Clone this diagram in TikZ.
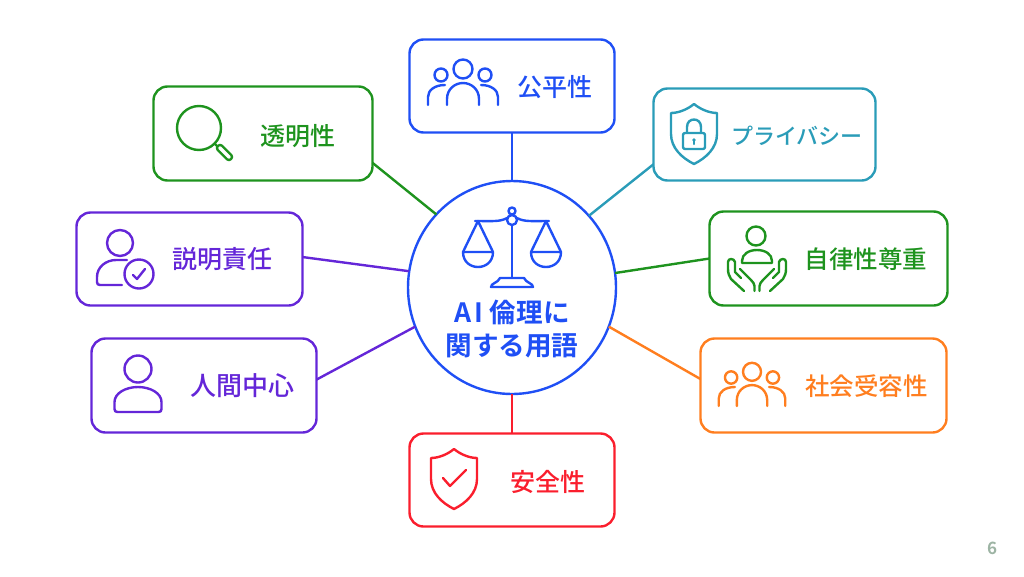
\documentclass[tikz,border=0pt]{standalone}
\usepackage{fontspec}
\setmainfont{Noto Sans CJK JP Medium}[BoldFont=Noto Sans CJK JP Bold]
\usetikzlibrary{%
    shapes.geometric
}

\definecolor{hubblue}{HTML}{1F4FF5}
\definecolor{lawngreen}{HTML}{1E931E}
\definecolor{lockteal}{HTML}{2A9CB8}
\definecolor{duepurple}{HTML}{6426D8}
\definecolor{crowdorange}{HTML}{FF7E1F}
\definecolor{alertred}{HTML}{FA1E2D}
\definecolor{pagegrey}{HTML}{9DB4A4}

\tikzset{%
    termbox/.style={draw=#1, text=#1, rectangle, rounded corners=14pt,
                    line width=2.4pt, outer sep=0pt},
    termtext/.style={text=#1, font=\fontsize{25}{25}\selectfont, inner sep=0pt},
    hubtext/.style={text=hubblue, font=\fontsize{26.6}{26.6}\selectfont\bfseries, inner sep=0pt},
    link/.style={draw=#1, line width=2.4pt},
    icon/.style={color=#1, line width=2.4pt, line join=round, line cap=round},
    %
    people/.pic={
        \draw (0,-16) circle[radius=9.5];
        \draw (-16,20) -- (-16,14) .. controls (-16,4) and (-8,-2) .. (0,-2)
              .. controls (8,-2) and (16,4) .. (16,14) -- (16,20);
        \foreach \Side in {1,-1} {
            \draw (\Side*22,-10) circle[radius=6.5];
            \draw (\Side*35,20) -- (\Side*35,12)
                  .. controls (\Side*35,5) and (\Side*28,0) .. (\Side*18,0);
        }
    },
    person/.pic={
        \draw (0,-21) circle[radius=13.5];
        \draw (-23.5,12) .. controls (-23.5,3) and (-12,-3) .. (0,-3)
              .. controls (12,-3) and (23.5,3) .. (23.5,12) -- (23.5,19)
              .. controls (23.5,21) and (22.5,22) .. (20.5,22) -- (-20.5,22)
              .. controls (-22.5,22) and (-23.5,21) .. (-23.5,19) -- cycle;
    },
    personcheck/.pic={
        \draw (0,-22) circle[radius=13];
        \draw (2,20) -- (-20,20) .. controls (-22,20) and (-23,19) .. (-23,17)
              -- (-23,12) .. controls (-23,2) and (-14,-5) .. (-4,-5) -- (7,-5);
        \draw (19,9) circle[radius=14.5];
        \draw (13,10) -- (17,14) -- (25,4);
    },
    magnifier/.pic={
        \draw (0,0) circle[radius=22];
        \draw (15.5,15.5) -- (18,18);
        \draw[rounded corners=2.5pt] (21.1,15.9) -- (34.1,28.9) -- (29.9,33.1)
              -- (16.9,20.1) -- cycle;
    },
    shield/.pic={
        \draw (0,-30) .. controls (6,-25) and (15,-21) .. (23,-21) -- (23,0)
              .. controls (23,14) and (12,24) .. (0,30)
              .. controls (-12,24) and (-23,14) .. (-23,0) -- (-23,-21)
              .. controls (-15,-21) and (-6,-25) .. (0,-30) -- cycle;
    },
    shieldlock/.pic={
        \pic {shield};
        \draw[rounded corners=2pt] (-11,-1) rectangle (11,15);
        \draw (-7,-1) -- (-7,-7) .. controls (-7,-17) and (7,-17) .. (7,-7) -- (7,-1);
        \fill (0,6) circle[radius=1.8];
        \draw (0,6) -- (0,10);
    },
    shieldcheck/.pic={
        \pic {shield};
        \draw (-11,-1) -- (-4,7) -- (12,-9);
    },
    carehands/.pic={
        \draw (-1,-28) circle[radius=9.5];
        \draw (-15,-1) -- (-15,-3) .. controls (-15,-10) and (-8,-14) .. (0,-14)
              .. controls (8,-14) and (15,-10) .. (15,-3) -- (15,-1) -- cycle;
        \foreach \Side in {1,-1} {
            \draw (\Side*-13,27) -- (\Side*-26,15)
                  .. controls (\Side*-28,12) and (\Side*-29,9) .. (\Side*-29,5)
                  -- (\Side*-29,-2) .. controls (\Side*-29,-6) and (\Side*-23,-6) .. (\Side*-22,-2)
                  -- (\Side*-22,8) -- (\Side*-16,14);
            \draw (\Side*-17,5) -- (\Side*-6,16)
                  .. controls (\Side*-4,18) and (\Side*-2.5,20) .. (\Side*-2.5,22) -- (\Side*-2.5,27);
        }
    },
    balance/.pic={
        \draw (0,-20) -- (0,33);
        \draw (0,-25) circle[radius=5];
        \draw (0,-34) circle[radius=3.5];
        \draw (-21,42) .. controls (-21,38) and (-14,38) .. (-12,33) -- (12,33)
              .. controls (14,38) and (21,38) .. (21,42) -- cycle;
        \foreach \Side in {1,-1} {
            \draw (\Side*37,-24) .. controls (\Side*20,-24) and (\Side*12,-23) .. (\Side*5,-27);
            \draw (\Side*19,7) -- (\Side*34,-24) -- (\Side*49,7);
            \draw (\Side*19,7) -- (\Side*49,7)
                  .. controls (\Side*49,27) and (\Side*19,27) .. (\Side*19,7);
        }
    }
}

\begin{document}
\begin{tikzpicture}[x=1pt, y=-1pt]
    \useasboundingbox (0,0) rectangle (1024,576);

    \node[draw=hubblue, ellipse, line width=2.4pt, outer sep=0pt, inner sep=0pt,
          minimum width=208pt, minimum height=213pt] (hub) at (512,287.5) {};

    \foreach \Name/\X/\Y/\Wd/\Ht/\Colour in {%
        fair/512/86/205/93/hubblue,
        clear/263/133.5/219/94/lawngreen,
        privacy/764.5/134.5/222/92/lockteal,
        account/189.5/259/226/93/duepurple,
        autonomy/828.5/258.5/238/94/lawngreen,
        human/204/385.5/225/94/duepurple,
        social/823.5/385.5/246/94/crowdorange,
        safety/512/480/205/93/alertred%
        }
        \node[termbox=\Colour, minimum width=\Wd pt, minimum height=\Ht pt] (\Name) at (\X,\Y) {};

    \foreach \Box/\HubAngle/\BoxAngle/\Colour in {%
        fair/90/-90/hubblue,
        clear/136/-15/lawngreen,
        privacy/43/195.3/lockteal,
        account/171.5/1/duepurple,
        autonomy/8/180/lawngreen,
        human/202.7/3.3/duepurple,
        social/-22.5/177/crowdorange,
        safety/-90/90/alertred%
        }
        \draw[link=\Colour] (hub.\HubAngle) -- (\Box.\BoxAngle);

    \foreach \Name/\X/\Y/\Colour/\Term in {%
        fairtext/555/87/hubblue/公平性,
        cleartext/298/136/lawngreen/透明性,
        accounttext/222.5/259/duepurple/説明責任,
        safetytext/548/482/alertred/安全性%
        }
        \node[termtext=\Colour] (\Name) at (\X,\Y) {\Term};
    \foreach \Name/\X/\Y/\Size/\Colour/\Term in {%
        humantext/242/386/26/duepurple/人間中心,
        autonomytext/866/259/24.5/lawngreen/自律性尊重,
        socialtext/866.5/386/24.5/crowdorange/社会受容性,
        privacytext/797/136/22/lockteal/プライバシー%
        }
        \node[termtext=\Colour, font=\fontsize{\Size}{\Size}\selectfont] (\Name) at (\X,\Y) {\Term};

    \node[hubtext] (hubtop) at (512,312) {A\kern3pt I\kern7pt 倫理に};
    \node[hubtext] (hubbottom) at (512,346) {関する用語};

    \node[text=pagegrey, font=\fontsize{17}{17}\selectfont\bfseries, inner sep=0pt] (pagenum) at (992,548) {6};

    \pic[icon=hubblue] at (512,245) {balance};
    \pic[icon=hubblue] at (463,85) {people};
    \pic[icon=lawngreen] at (199,128) {magnifier};
    \pic[icon=lockteal] at (694,134) {shieldlock};
    \pic[icon=duepurple] at (120,265) {personcheck};
    \pic[icon=lawngreen] at (757,264) {carehands};
    \pic[icon=duepurple] at (138,390) {person};
    \pic[icon=crowdorange, scale=.95] at (752,387) {people};
    \pic[icon=alertred] at (454,479) {shieldcheck};
\end{tikzpicture}
\end{document}
